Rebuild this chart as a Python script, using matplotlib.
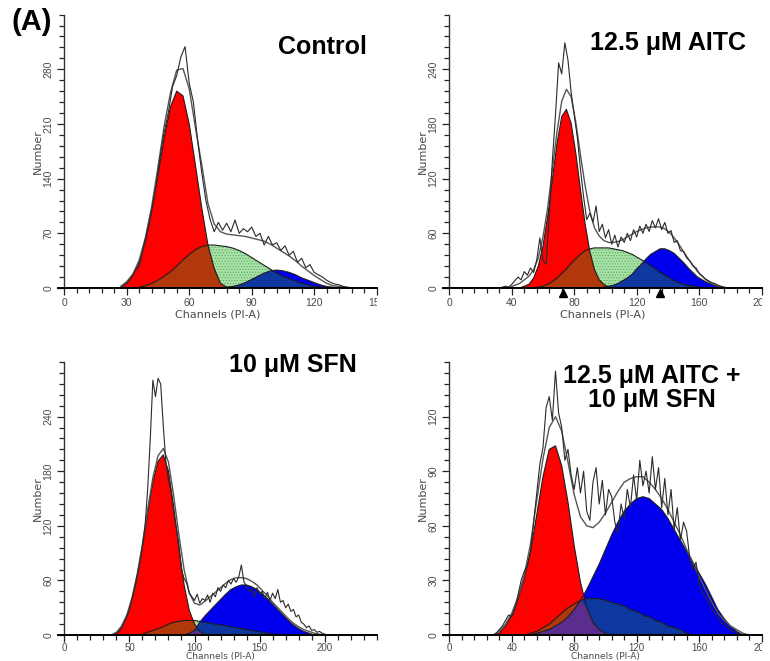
import numpy as np
import matplotlib
matplotlib.use("Agg")
import matplotlib.pyplot as plt
from matplotlib.ticker import FixedLocator, MultipleLocator
from matplotlib.transforms import Bbox, TransformedBbox

plt.rcParams["hatch.linewidth"] = 0.5

# ---- Control (channels 27..141 step 3, raw 28..140 step 2)
ctrl_g1 = [0, 8, 17, 34, 61, 99, 145, 193, 232, 252, 246, 210, 157, 103, 55, 25, 6, 1, 0,
           0, 0, 0, 0, 0, 0, 0, 0, 0, 0, 0, 0, 0, 0, 0, 0, 0, 0, 0, 0]
ctrl_s = [0, 0, 0, 1, 3, 6, 10, 15, 21, 28, 36, 43, 49, 53, 55, 55, 54, 53, 51, 48,
          44, 39, 34, 29, 24, 19, 15, 12, 9, 6, 4, 2, 1, 0, 0, 0, 0, 0, 0]
ctrl_g2 = [0, 0, 0, 0, 0, 0, 0, 0, 0, 0, 0, 0, 0, 0, 0, 0, 0, 1, 2, 4,
           7, 11, 15, 19, 22, 23, 22, 20, 17, 13, 10, 7, 4, 2, 1, 0, 0, 0, 0]
ctrl_fit = [2, 8, 18, 36, 65, 105, 155, 208, 250, 279, 281, 255, 205, 158, 108, 82, 72, 69, 68, 67,
            66, 64, 62, 60, 56, 51, 46, 41, 35, 28, 22, 16, 11, 6, 3, 2, 1, 0, 0]
ctrl_raw = [2, 6, 12, 22, 28, 52, 75, 100, 130, 168, 200, 225, 258, 272, 296, 309, 262, 238, 190, 148,
            112, 88, 72, 84, 74, 83, 72, 87, 70, 76, 72, 78, 66, 70, 55, 66, 55, 58, 48, 54,
            42, 47, 33, 38, 26, 30, 20, 17, 14, 10, 7, 5, 4, 2, 1, 0, 0]

# ---- 12.5 uM AITC (channels 36..180 step 3, raw 32..180 step 2)
aitc_g1 = [0, 0, 0, 0, 2, 4, 11, 24, 46, 79, 119, 159, 188, 196, 181, 148, 108, 70, 40, 20,
           9, 4, 1, 0, 0, 0, 0, 0, 0, 0, 0, 0, 0, 0, 0, 0, 0, 0, 0, 0,
           0, 0, 0, 0, 0, 0, 0, 0, 0]
aitc_s = [0, 0, 0, 0, 0, 0, 0, 1, 2, 4, 7, 11, 16, 21, 27, 32, 37, 41, 43, 44,
          44, 44, 44, 43, 42, 41, 39, 37, 34, 31, 28, 24, 21, 17, 14, 11, 8, 6, 4, 3,
          2, 1, 0, 0, 0, 0, 0, 0, 0]
aitc_g2 = [0, 0, 0, 0, 0, 0, 0, 0, 0, 0, 0, 0, 0, 0, 0, 0, 0, 0, 0, 0,
           0, 1, 2, 3, 5, 8, 11, 15, 21, 26, 32, 37, 40, 43, 43, 41, 38, 33, 28, 22,
           17, 12, 9, 6, 4, 2, 1, 0, 0]
aitc_fit = [0, 1, 3, 5, 9, 13, 20, 33, 56, 88, 130, 172, 205, 218, 210, 182, 146, 112, 84, 66,
            57, 52, 50, 50, 51, 53, 56, 59, 62, 64, 66, 67, 67, 67, 65, 61, 55, 48, 40, 32,
            25, 18, 13, 8, 5, 3, 1, 0, 0]
aitc_raw = [0, 1, 2, 1, 4, 8, 12, 9, 18, 14, 22, 17, 31, 55, 30, 26, 80, 140, 190, 247,
            235, 269, 250, 215, 190, 165, 130, 100, 75, 82, 72, 90, 62, 70, 55, 64, 48, 58, 45, 56,
            50, 60, 52, 64, 56, 68, 60, 70, 62, 74, 66, 76, 64, 72, 60, 63, 50, 52, 41, 40,
            33, 30, 24, 22, 16, 13, 10, 8, 6, 5, 3, 2, 1, 0, 0]
aitc_markers = [73, 135]

# ---- 10 uM SFN (channels 36..204 step 4, raw 40..204 step 2)
sfn_g1 = [0, 2, 8, 21, 39, 64, 97, 134, 168, 191, 198, 180, 141, 95, 55, 27, 12, 4, 1, 0,
          0, 0, 0, 0, 0, 0, 0, 0, 0, 0, 0, 0, 0, 0, 0, 0, 0, 0, 0, 0, 0, 0, 0]
sfn_s = [0, 0, 0, 0, 0, 0, 1, 3, 5, 7, 9, 12, 14, 15, 16, 16, 16, 15, 14, 13,
         12, 11, 10, 9, 8, 7, 6, 5, 4, 3, 2, 1, 1, 0, 0, 0, 0, 0, 0, 0, 0, 0, 0]
sfn_g2 = [0, 0, 0, 0, 0, 0, 0, 0, 0, 0, 0, 0, 0, 0, 0, 2, 5, 14, 21, 27,
          33, 39, 45, 50, 53, 55, 55, 53, 50, 45, 40, 34, 28, 22, 16, 11, 7, 4, 2, 0, 0, 0, 0]
sfn_fit = [0, 3, 10, 22, 41, 67, 100, 138, 173, 197, 205, 190, 153, 110, 72, 46, 35, 33, 37, 42,
           47, 52, 57, 61, 63, 63, 62, 59, 55, 49, 43, 36, 30, 24, 18, 13, 9, 6, 4, 2, 1, 0, 0]
sfn_raw = [2, 4, 8, 14, 20, 28, 40, 52, 66, 80, 98, 120, 160, 215, 280, 262, 282, 276, 230, 190,
           170, 158, 135, 118, 100, 72, 62, 57, 46, 42, 38, 45, 35, 40, 38, 44, 36, 46, 42, 52,
           48, 55, 52, 60, 56, 62, 58, 64, 77, 58, 54, 48, 50, 42, 52, 45, 48, 40, 47, 38,
           46, 40, 50, 36, 38, 30, 34, 26, 28, 20, 22, 14, 12, 8, 10, 5, 6, 3, 4, 2, 1, 0, 0]

# ---- 12.5 uM AITC + 10 uM SFN (channels 28..192 step 4, raw 28..190 step 2)
combo_g1 = [0, 1, 5, 11, 20, 31, 46, 66, 87, 102, 104, 93, 73, 49, 29, 15, 7, 3, 1, 0,
            0, 0, 0, 0, 0, 0, 0, 0, 0, 0, 0, 0, 0, 0, 0, 0, 0, 0, 0, 0, 0, 0]
combo_s = [0, 0, 0, 0, 0, 0, 1, 2, 4, 6, 9, 12, 15, 17, 19, 20, 20, 20, 19, 18,
           17, 16, 14, 13, 11, 10, 8, 7, 5, 4, 3, 1, 0, 0, 0, 0, 0, 0, 0, 0, 0, 0]
combo_g2 = [0, 0, 0, 0, 0, 0, 0, 1, 2, 3, 5, 7, 10, 14, 19, 25, 32, 39, 47, 55,
            62, 68, 72, 75, 76, 75, 72, 69, 64, 58, 52, 46, 40, 34, 28, 21, 14, 9, 5, 2, 0, 0]
combo_fit = [0, 2, 6, 12, 21, 33, 50, 74, 97, 114, 120, 112, 95, 77, 65, 60, 59, 62, 67, 73,
             79, 84, 86, 87, 87, 84, 80, 75, 69, 62, 55, 47, 40, 32, 25, 18, 12, 8, 5, 3, 1, 0]
combo_raw = [0, 1, 3, 5, 8, 11, 10, 14, 22, 30, 35, 38, 46, 62, 78, 94, 103, 125, 131, 118,
             145, 122, 114, 96, 102, 88, 80, 92, 78, 90, 68, 63, 84, 92, 72, 85, 66, 80, 76, 62,
             56, 72, 64, 80, 70, 88, 74, 96, 82, 90, 78, 98, 80, 92, 70, 86, 66, 80, 58, 70,
             52, 62, 57, 42, 36, 40, 28, 24, 21, 18, 14, 12, 10, 7, 6, 4, 3, 2, 1, 0, 0, 0]

titles = ["Control", "12.5 μM AITC", "10 μM SFN", "12.5 μM AITC +\n10 μM SFN"]

RED = "#ff0000"
BLUE = "#0000ee"
GREEN = "#a8e2a8"
BROWN = "#b0380a"
DARKBLUE = "#0c3aa6"
PURPLE = "#5b2d8c"
LINE = "#1e1e1e"
GRAY = "#4a4a4a"
TICKFONT = ["Liberation Sans Narrow", "Liberation Sans", "DejaVu Sans"]


def chans(start, step, vals):
    return start + step * np.arange(len(vals))


def draw_panel(ax, xc, g1, s, g2, xf, fit, xr, raw):
    g1, s, g2 = np.array(g1), np.array(s), np.array(g2)
    ax.fill_between(xc, 0, s, facecolor=GREEN, edgecolor="#5aa85a", hatch="......", lw=0)
    ax.fill_between(xc, 0, g2, facecolor=BLUE, lw=0)
    ax.fill_between(xc, 0, g1, facecolor=RED, lw=0)
    ax.fill_between(xc, 0, np.minimum(s, g1), facecolor=BROWN, lw=0)
    ax.fill_between(xc, 0, np.minimum(s, g2), facecolor=DARKBLUE, edgecolor="#1a2f80",
                    hatch="......", lw=0)
    ax.fill_between(xc, 0, np.minimum(g1, g2), facecolor=PURPLE, lw=0)
    for comp in (g1, s, g2):
        ax.plot(xc, comp, color=LINE, lw=0.8)
    ax.plot(xf, fit, color="#555555", lw=1.0)
    ax.plot(xr, raw, color="#2a2a2a", lw=0.8)


def style_axis(ax, xlim, ylim, xticks, xminor, yticks, yminor):
    ax.set_xlim(*xlim)
    ax.set_ylim(*ylim)
    for side in ("top", "right"):
        ax.spines[side].set_visible(False)
    ax.spines["left"].set_position(("data", 0))
    ax.spines["left"].set_color("#333333")
    ax.spines["left"].set_linewidth(1.0)
    ax.spines["bottom"].set_linewidth(1.4)
    ax.xaxis.set_major_locator(FixedLocator(xticks))
    ax.xaxis.set_minor_locator(MultipleLocator(xminor))
    ax.yaxis.set_major_locator(FixedLocator(yticks))
    ax.yaxis.set_minor_locator(MultipleLocator(yminor))
    ax.tick_params(which="major", direction="out", length=5, width=0.9, color="#222222",
                   labelsize=7.5, labelcolor=GRAY, pad=2)
    ax.tick_params(which="minor", direction="out", length=3.5, width=0.9, color="#222222")
    ax.tick_params(axis="y", labelrotation=90, pad=3)
    for lab in ax.get_xticklabels() + ax.get_yticklabels():
        lab.set_family(TICKFONT)
    for lab in ax.get_yticklabels():
        lab.set_va("center")
    ax.set_xlabel("Channels (PI-A)", fontsize=8, color=GRAY, labelpad=1)
    ax.set_ylabel("Number", fontsize=8, color=GRAY, labelpad=0)


fig = plt.figure(figsize=(7.7, 6.61), dpi=100)

ax_a = fig.add_axes([0.0754, 0.5643, 0.4137, 0.4136])
ax_b = fig.add_axes([0.5754, 0.5643, 0.4137, 0.4136])
ax_c = fig.add_axes([0.0751, 0.0393, 0.4142, 0.4130])
ax_d = fig.add_axes([0.5754, 0.0393, 0.4137, 0.4130])

draw_panel(ax_a, chans(27, 3, ctrl_g1), ctrl_g1, ctrl_s, ctrl_g2,
           chans(27, 3, ctrl_fit), ctrl_fit, chans(28, 2, ctrl_raw), ctrl_raw)
style_axis(ax_a, (-3, 150), (0, 350), [0, 30, 60, 90, 120, 150], 6, [0, 70, 140, 210, 280], 14)

draw_panel(ax_b, chans(36, 3, aitc_g1), aitc_g1, aitc_s, aitc_g2,
           chans(36, 3, aitc_fit), aitc_fit, chans(32, 2, aitc_raw), aitc_raw)
style_axis(ax_b, (-4, 200), (0, 300), [0, 40, 80, 120, 160, 200], 8, [0, 60, 120, 180, 240], 12)
ax_b.plot(aitc_markers, [-5.5] * len(aitc_markers), linestyle="none", marker="^",
          color="black", markersize=6, clip_on=False)

draw_panel(ax_c, chans(36, 4, sfn_g1), sfn_g1, sfn_s, sfn_g2,
           chans(36, 4, sfn_fit), sfn_fit, chans(40, 2, sfn_raw), sfn_raw)
style_axis(ax_c, (-5, 240), (0, 300), [0, 50, 100, 150, 200], 10, [0, 60, 120, 180, 240], 12)

draw_panel(ax_d, chans(28, 4, combo_g1), combo_g1, combo_s, combo_g2,
           chans(28, 4, combo_fit), combo_fit, chans(28, 2, combo_raw), combo_raw)
style_axis(ax_d, (-4, 200), (0, 150), [0, 40, 80, 120, 160, 200], 8, [0, 30, 60, 90, 120], 6)

# bottom row: the figure ends right under the tick labels, so tighten things up
for ax in (ax_c, ax_d):
    ax.tick_params(axis="x", which="major", pad=0.5, labelsize=7)
    ax.xaxis.set_label_coords(0.51, -0.0935)
    ax.xaxis.label.set_va("bottom")
    ax.xaxis.label.set_fontsize(6.5)

# the right-most tick label is cut off in the original panels
for ax in (ax_a, ax_b, ax_d):
    last = ax.get_xticklabels()[-1]
    last.set_clip_box(TransformedBbox(Bbox([[0, -1], [1.0, 2]]), ax.transAxes))
    last.set_clip_on(True)

title_font = dict(fontsize=18, fontweight="bold", family=["Liberation Sans", "DejaVu Sans"],
                  ha="center", va="center")
fig.text(32 / 770, 1 - 22 / 661, "(A)", **dict(title_font, fontsize=21))
fig.text(322 / 770, 1 - 47 / 661, titles[0], **title_font)
fig.text(668 / 770, 1 - 43 / 661, titles[1], **title_font)
fig.text(293 / 770, 1 - 365 / 661, titles[2], **title_font)
fig.text(652 / 770, 1 - 388 / 661, titles[3], linespacing=1.05, **title_font)

fig.savefig("out.png", dpi=100)
